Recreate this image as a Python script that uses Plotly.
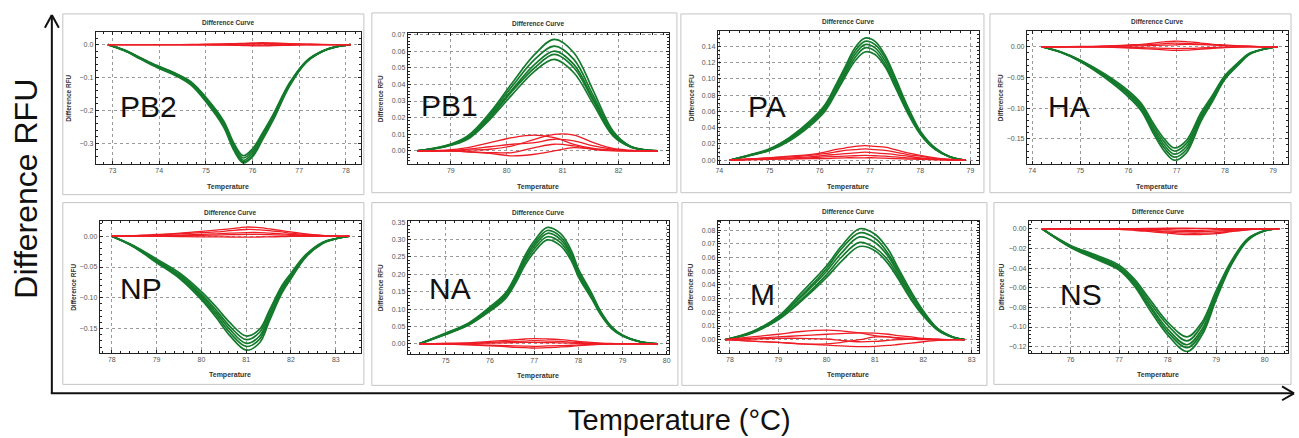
import plotly.graph_objects as go

W, H = 1299, 438

# ---------------- data ----------------
PB2_temp = [72.9, 73.25, 73.6, 73.96, 74.3, 74.67, 75.0, 75.38, 75.6, 75.8, 76.0, 76.2, 76.44, 76.79, 77.15, 77.5, 77.8, 78.1]
PB2_green = [
    [0, -0.016, -0.040, -0.064, -0.084, -0.112, -0.160, -0.232, -0.300, -0.338, -0.317, -0.272, -0.213, -0.117, -0.050, -0.019, -0.006, 0],
    [0, -0.017, -0.041, -0.066, -0.085, -0.115, -0.164, -0.237, -0.306, -0.345, -0.323, -0.277, -0.218, -0.120, -0.051, -0.020, -0.006, 0],
    [0, -0.017, -0.042, -0.067, -0.087, -0.117, -0.167, -0.242, -0.312, -0.352, -0.330, -0.283, -0.222, -0.122, -0.052, -0.020, -0.006, 0],
    [0, -0.018, -0.043, -0.068, -0.089, -0.119, -0.170, -0.247, -0.318, -0.357, -0.337, -0.289, -0.226, -0.124, -0.053, -0.020, -0.006, 0],
    [0, -0.018, -0.044, -0.070, -0.091, -0.122, -0.174, -0.251, -0.322, -0.360, -0.341, -0.293, -0.230, -0.127, -0.054, -0.021, -0.006, 0],
]
PB2_red = [
    [0, 0, 0, 0, 0, 0.0005, 0.001, 0.002, 0.003, 0.004, 0.005, 0.006, 0.005, 0.003, 0.0015, 0.0005, 0, 0],
    [0, 0, 0, 0, 0, 0, 0.0005, 0.001, 0.002, 0.0025, 0.003, 0.0035, 0.003, 0.002, 0.001, 0, 0, 0],
    [0, 0, 0, 0, 0, -0.0005, -0.001, -0.0015, -0.002, -0.003, -0.0035, -0.004, -0.003, -0.002, -0.001, 0, 0, 0],
    [0, 0, 0, 0, 0, 0, 0.0005, 0.001, 0.0015, 0.0015, 0.002, 0.002, 0.0015, 0.001, 0.0005, 0, 0, 0],
    [0, 0, 0, 0, 0, 0, -0.0005, -0.001, -0.001, -0.0015, -0.0015, -0.0015, -0.001, -0.0005, 0, 0, 0, 0],
]

PB1_temp = [78.4, 78.9, 79.3, 79.7, 80.1, 80.5, 80.85, 81.2, 81.55, 81.9, 82.2, 82.45, 82.7]
PB1_green = [
    [0, 0.003, 0.009, 0.023, 0.041, 0.058, 0.067, 0.059, 0.036, 0.012, 0.003, 0.0008, 0],
    [0, 0.003, 0.008, 0.022, 0.039, 0.055, 0.063, 0.055, 0.033, 0.011, 0.003, 0.0007, 0],
    [0, 0.0028, 0.008, 0.021, 0.037, 0.052, 0.060, 0.052, 0.031, 0.010, 0.0028, 0.0006, 0],
    [0, 0.0026, 0.0075, 0.020, 0.036, 0.050, 0.058, 0.050, 0.030, 0.0095, 0.0026, 0.0006, 0],
    [0, 0.0025, 0.007, 0.019, 0.034, 0.048, 0.055, 0.047, 0.028, 0.009, 0.0025, 0.0005, 0],
]
PB1_red = [
    [0, 0.0005, 0.002, 0.005, 0.008, 0.0095, 0.008, 0.004, 0.0015, 0.0005, 0, 0, 0],
    [0, 0, 0.0005, 0.001, 0.003, 0.007, 0.010, 0.0095, 0.005, 0.0015, 0.0005, 0, 0],
    [0, 0, 0.001, 0.0025, 0.004, 0.005, 0.007, 0.006, 0.003, 0.001, 0, 0, 0],
    [0, 0, -0.0005, -0.0015, -0.003, -0.002, 0.000, 0.002, 0.001, 0.0005, 0, 0, 0],
    [0, 0, -0.0005, -0.001, -0.001, 0.002, 0.004, 0.003, 0.001, 0, 0, 0, 0],
]

PA_temp = [74.2, 74.6, 75.0, 75.4, 75.8, 76.1, 76.3, 76.5, 76.7, 76.9, 77.1, 77.3, 77.5, 77.75, 78.0, 78.3, 78.6, 78.9]
PA_green = [
    [0, 0.0064, 0.014, 0.028, 0.048, 0.068, 0.090, 0.114, 0.138, 0.150, 0.146, 0.129, 0.102, 0.066, 0.036, 0.015, 0.004, 0],
    [0, 0.0062, 0.013, 0.027, 0.046, 0.066, 0.088, 0.111, 0.134, 0.146, 0.142, 0.126, 0.099, 0.064, 0.035, 0.014, 0.004, 0],
    [0, 0.006, 0.013, 0.026, 0.045, 0.064, 0.085, 0.108, 0.130, 0.142, 0.138, 0.122, 0.096, 0.062, 0.034, 0.014, 0.004, 0],
    [0, 0.0058, 0.0126, 0.025, 0.044, 0.062, 0.082, 0.105, 0.126, 0.138, 0.134, 0.118, 0.093, 0.060, 0.033, 0.0136, 0.0039, 0],
    [0, 0.0056, 0.012, 0.024, 0.042, 0.060, 0.080, 0.102, 0.122, 0.133, 0.130, 0.115, 0.090, 0.058, 0.032, 0.013, 0.0038, 0],
]
PA_red = [
    [0, 0.0015, 0.003, 0.005, 0.007, 0.010, 0.013, 0.015, 0.017, 0.018, 0.017, 0.016, 0.013, 0.009, 0.006, 0.003, 0.001, 0],
    [0, 0.0015, 0.003, 0.004, 0.006, 0.008, 0.010, 0.012, 0.013, 0.014, 0.013, 0.012, 0.010, 0.007, 0.005, 0.002, 0.001, 0],
    [0, 0.001, 0.002, 0.003, 0.004, 0.006, 0.007, 0.008, 0.009, 0.010, 0.009, 0.008, 0.007, 0.005, 0.003, 0.0015, 0.0005, 0],
    [0, 0.001, 0.0015, 0.002, 0.003, 0.004, 0.0045, 0.005, 0.0055, 0.006, 0.0055, 0.005, 0.004, 0.003, 0.002, 0.001, 0.0005, 0],
    [0, 0.0005, 0.001, 0.0015, 0.002, 0.002, 0.0025, 0.003, 0.003, 0.003, 0.003, 0.0025, 0.002, 0.0015, 0.001, 0.0005, 0, 0],
]

HA_temp = [74.2, 74.6, 75.0, 75.5, 76.0, 76.27, 76.5, 76.75, 76.95, 77.2, 77.5, 77.75, 78.0, 78.3, 78.5, 78.8, 79.1]
HA_green = [
    [0, -0.0095, -0.024, -0.050, -0.082, -0.105, -0.139, -0.171, -0.185, -0.173, -0.122, -0.088, -0.053, -0.028, -0.013, -0.004, 0],
    [0, -0.009, -0.024, -0.048, -0.079, -0.102, -0.135, -0.166, -0.180, -0.168, -0.118, -0.085, -0.052, -0.027, -0.012, -0.004, 0],
    [0, -0.009, -0.023, -0.047, -0.077, -0.099, -0.131, -0.161, -0.175, -0.163, -0.115, -0.083, -0.050, -0.026, -0.012, -0.004, 0],
    [0, -0.0087, -0.022, -0.046, -0.075, -0.096, -0.127, -0.156, -0.170, -0.158, -0.112, -0.081, -0.049, -0.025, -0.012, -0.004, 0],
    [0, -0.0085, -0.022, -0.044, -0.072, -0.093, -0.123, -0.151, -0.165, -0.153, -0.108, -0.078, -0.047, -0.024, -0.011, -0.004, 0],
]
HA_red = [
    [0, 0, 0.0005, 0.001, 0.003, 0.004, 0.006, 0.008, 0.009, 0.0085, 0.006, 0.004, 0.003, 0.0015, 0.001, 0, 0],
    [0, 0, 0, 0.001, 0.002, 0.003, 0.004, 0.005, 0.006, 0.0055, 0.004, 0.003, 0.002, 0.001, 0.0005, 0, 0],
    [0, 0, 0, -0.0005, -0.002, -0.003, -0.004, -0.005, -0.006, -0.0055, -0.004, -0.0025, -0.0015, -0.0005, 0, 0, 0],
    [0, 0, 0, 0.0005, 0.001, 0.0015, 0.002, 0.0025, 0.003, 0.004, 0.0035, 0.003, 0.002, 0.001, 0.0005, 0, 0],
    [0, 0, 0, -0.0005, -0.001, -0.0015, -0.002, -0.0025, -0.003, -0.0028, -0.002, -0.0012, -0.0006, 0, 0, 0, 0],
]

NP_temp = [78.0, 78.48, 79.0, 79.52, 80.0, 80.33, 80.63, 81.0, 81.3, 81.52, 81.8, 82.0, 82.33, 82.7, 83.0, 83.3]
NP_green = [
    [0, -0.017, -0.043, -0.069, -0.103, -0.132, -0.161, -0.185, -0.173, -0.137, -0.092, -0.069, -0.034, -0.012, -0.004, 0],
    [0, -0.0165, -0.041, -0.067, -0.100, -0.128, -0.156, -0.179, -0.167, -0.133, -0.089, -0.067, -0.033, -0.011, -0.004, 0],
    [0, -0.016, -0.040, -0.065, -0.097, -0.124, -0.151, -0.174, -0.162, -0.129, -0.086, -0.065, -0.032, -0.011, -0.004, 0],
    [0, -0.0155, -0.039, -0.063, -0.094, -0.120, -0.146, -0.168, -0.156, -0.124, -0.083, -0.063, -0.031, -0.0105, -0.004, 0],
    [0, -0.015, -0.037, -0.060, -0.090, -0.115, -0.140, -0.162, -0.151, -0.120, -0.080, -0.060, -0.030, -0.010, -0.0037, 0],
]
NP_red = [
    [0, 0.001, 0.003, 0.005, 0.008, 0.010, 0.012, 0.015, 0.014, 0.012, 0.009, 0.007, 0.004, 0.0015, 0.0005, 0],
    [0, 0.001, 0.002, 0.004, 0.006, 0.007, 0.009, 0.011, 0.0105, 0.009, 0.007, 0.005, 0.003, 0.001, 0, 0],
    [0, 0.0005, 0.001, 0.002, 0.003, 0.004, 0.005, 0.006, 0.006, 0.005, 0.004, 0.003, 0.002, 0.0008, 0, 0],
    [0, 0, 0.0005, 0.001, 0.0015, 0.002, 0.0025, 0.003, 0.003, 0.0025, 0.002, 0.0015, 0.001, 0.0004, 0, 0],
    [0, 0, 0, -0.0005, -0.001, -0.001, -0.0012, -0.0015, -0.0012, -0.001, -0.0006, -0.0003, 0, 0, 0, 0],
]

NA_temp = [74.4, 75.0, 75.52, 76.0, 76.35, 76.58, 76.8, 77.0, 77.3, 77.6, 77.85, 78.0, 78.3, 78.5, 78.75, 79.0, 79.4, 79.8]
NA_green = [
    [0, 0.031, 0.060, 0.106, 0.146, 0.196, 0.256, 0.296, 0.335, 0.317, 0.266, 0.216, 0.146, 0.095, 0.050, 0.025, 0.0065, 0],
    [0, 0.030, 0.058, 0.102, 0.141, 0.191, 0.249, 0.288, 0.326, 0.308, 0.258, 0.210, 0.141, 0.092, 0.048, 0.025, 0.006, 0],
    [0, 0.029, 0.057, 0.100, 0.138, 0.186, 0.243, 0.281, 0.318, 0.300, 0.252, 0.205, 0.138, 0.090, 0.047, 0.024, 0.006, 0],
    [0, 0.028, 0.055, 0.097, 0.134, 0.180, 0.236, 0.273, 0.308, 0.291, 0.244, 0.199, 0.134, 0.087, 0.046, 0.023, 0.006, 0],
    [0, 0.027, 0.054, 0.094, 0.130, 0.175, 0.228, 0.264, 0.299, 0.282, 0.237, 0.193, 0.130, 0.085, 0.044, 0.0225, 0.0056, 0],
]
NA_red = [
    [0, 0.001, 0.003, 0.007, 0.010, 0.012, 0.014, 0.015, 0.014, 0.012, 0.009, 0.007, 0.004, 0.002, 0.001, 0.0005, 0, 0],
    [0, 0.001, 0.002, 0.004, 0.006, 0.007, 0.008, 0.009, 0.008, 0.007, 0.005, 0.004, 0.002, 0.001, 0.0005, 0, 0, 0],
    [0, -0.001, -0.003, -0.006, -0.008, -0.010, -0.011, -0.012, -0.011, -0.009, -0.007, -0.005, -0.003, -0.0015, -0.0005, 0, 0, 0],
    [0, -0.0005, -0.002, -0.004, -0.005, -0.006, -0.0065, -0.007, -0.006, -0.005, -0.004, -0.003, -0.0015, -0.0005, 0, 0, 0, 0],
    [0, 0, 0.001, 0.002, 0.003, 0.0035, 0.004, 0.004, 0.0035, 0.003, 0.002, 0.0015, 0.001, 0.0005, 0, 0, 0, 0],
]

M_temp = [77.9, 78.45, 79.0, 79.47, 80.0, 80.3, 80.68, 81.0, 81.27, 81.47, 81.75, 82.0, 82.3, 82.6, 82.85]
M_green = [
    [0, 0.0057, 0.017, 0.034, 0.054, 0.068, 0.081, 0.077, 0.066, 0.053, 0.035, 0.021, 0.008, 0.0022, 0],
    [0, 0.0055, 0.0166, 0.032, 0.052, 0.066, 0.078, 0.074, 0.063, 0.051, 0.033, 0.020, 0.0078, 0.0021, 0],
    [0, 0.0053, 0.016, 0.031, 0.050, 0.063, 0.075, 0.071, 0.061, 0.049, 0.032, 0.019, 0.0075, 0.002, 0],
    [0, 0.005, 0.015, 0.029, 0.0475, 0.060, 0.071, 0.067, 0.058, 0.047, 0.030, 0.018, 0.0071, 0.0019, 0],
    [0, 0.0048, 0.0146, 0.028, 0.0455, 0.057, 0.068, 0.065, 0.0555, 0.045, 0.029, 0.0173, 0.0068, 0.0018, 0],
]
M_red = [
    [0, 0.002, 0.004, 0.006, 0.007, 0.0065, 0.005, 0.003, 0.002, 0.001, 0.0005, 0, 0, 0, 0],
    [0, 0.001, 0.002, 0.003, 0.004, 0.0045, 0.005, 0.0048, 0.004, 0.003, 0.002, 0.001, 0.0005, 0, 0],
    [0, -0.001, -0.002, -0.003, -0.003, -0.002, 0.000, 0.002, 0.002, 0.0015, 0.001, 0.0005, 0, 0, 0],
    [0, -0.001, -0.002, -0.003, -0.004, -0.0045, -0.005, -0.0048, -0.0042, -0.0035, -0.0025, -0.0015, -0.0005, 0, 0],
    [0, 0.0005, 0.001, 0.001, 0.0005, -0.0005, -0.0015, -0.0012, -0.0005, 0, 0.0005, 0.0003, 0, 0, 0],
]

NS_temp = [75.41, 76.0, 76.48, 77.0, 77.31, 77.65, 78.0, 78.4, 78.71, 79.0, 79.31, 79.65, 80.0, 80.3]
NS_green = [
    [0, -0.019, -0.030, -0.042, -0.058, -0.084, -0.108, -0.125, -0.108, -0.072, -0.037, -0.012, -0.002, 0],
    [0, -0.0185, -0.029, -0.041, -0.057, -0.081, -0.105, -0.121, -0.105, -0.070, -0.036, -0.011, -0.002, 0],
    [0, -0.018, -0.028, -0.040, -0.055, -0.079, -0.102, -0.118, -0.102, -0.068, -0.035, -0.011, -0.002, 0],
    [0, -0.0175, -0.027, -0.0385, -0.053, -0.076, -0.098, -0.114, -0.098, -0.066, -0.034, -0.0106, -0.002, 0],
    [0, -0.017, -0.026, -0.037, -0.051, -0.073, -0.095, -0.110, -0.095, -0.063, -0.033, -0.010, -0.0019, 0],
]
NS_red = [
    [0, 0, 0, -0.0005, -0.0015, -0.003, -0.0045, -0.006, -0.0058, -0.005, -0.003, -0.001, 0, 0],
    [0, 0, 0, -0.0005, -0.001, -0.002, -0.0035, -0.0045, -0.0045, -0.004, -0.0025, -0.0008, 0, 0],
    [0, 0, 0, 0, -0.0005, -0.0015, -0.0025, -0.003, -0.003, -0.0025, -0.0015, -0.0005, 0, 0],
    [0, 0, 0, 0, 0, -0.0005, -0.001, -0.0015, -0.0015, -0.001, -0.0005, 0, 0, 0],
    [0, 0, 0, 0, 0, 0.0003, 0.0005, 0.0005, 0.0004, 0.0002, 0, 0, 0, 0],
]

PANEL_NAMES = ["PB2", "PB1", "PA", "HA", "NP", "NA", "M", "NS"]
PANEL_DATA = {
    "PB2": (PB2_temp, PB2_green, PB2_red),
    "PB1": (PB1_temp, PB1_green, PB1_red),
    "PA": (PA_temp, PA_green, PA_red),
    "HA": (HA_temp, HA_green, HA_red),
    "NP": (NP_temp, NP_green, NP_red),
    "NA": (NA_temp, NA_green, NA_red),
    "M": (M_temp, M_green, M_red),
    "NS": (NS_temp, NS_green, NS_red),
}

PANEL_TITLE = "Difference Curve"
PANEL_XTITLE = "Temperature"
PANEL_YTITLE = "Difference RFU"
BIG_XTITLE = "Temperature (°C)"
BIG_YTITLE = "Difference RFU"

# ---------------- layout / style table (pixels) ----------------
STYLE = {
    "PB2": dict(box=(61, 11, 363, 193), area=(94, 29, 360, 162), xr=(72.64, 78.32), yr=(-0.363, 0.039),
                ydt=0.1, ymin=0.02, yfmt=".1f", lab=(147, 104)),
    "PB1": dict(box=(371, 10, 677, 191), area=(407, 30, 669, 162), xr=(78.23, 82.9), yr=(-0.0078, 0.071),
                ydt=0.01, ymin=0.002, yfmt=".2f", lab=(449, 103)),
    "PA": dict(box=(681, 11, 985, 191), area=(718, 28, 980, 162), xr=(73.97, 79.17), yr=(-0.0045, 0.159),
               ydt=0.02, ymin=0.005, yfmt=".2f", lab=(767, 104)),
    "HA": dict(box=(991, 11, 1293, 191), area=(1028, 28, 1290, 162), xr=(73.89, 79.31), yr=(-0.191, 0.026),
               ydt=0.05, ymin=0.01, yfmt=".2f", lab=(1070, 104)),
    "NP": dict(box=(61, 201, 363, 384), area=(98, 220, 360, 352), xr=(77.73, 83.56), yr=(-0.189, 0.024),
               ydt=0.05, ymin=0.01, yfmt=".2f", lab=(139, 287)),
    "NA": dict(box=(371, 201, 678, 385), area=(407, 220, 669, 353), xr=(74.14, 80.05), yr=(-0.028, 0.352),
               ydt=0.05, ymin=0.01, yfmt=".2f", lab=(449, 287)),
    "M": dict(box=(682, 201, 988, 385), area=(718, 219, 980, 352), xr=(77.75, 83.15), yr=(-0.0094, 0.087),
              ydt=0.01, ymin=0.002, yfmt=".2f", lab=(763, 294)),
    "NS": dict(box=(995, 201, 1293, 384), area=(1030, 219, 1290, 352), xr=(75.14, 80.48), yr=(-0.126, 0.0084),
               ydt=0.02, ymin=0.004, yfmt=".2f", lab=(1082, 294)),
}

GREEN = "#147a2c"
RED = "#ee1c24"
FONT = "Liberation Sans, Arial, sans-serif"


def px(x):
    return x / W


def py(y):
    return 1 - y / H


fig = go.Figure()
shapes = []
annotations = []
layout_axes = {}


def note(x, y, text, size, color="#333", angle=0):
    return dict(xref="paper", yref="paper", x=px(x), y=py(y), text=text, textangle=angle,
                xanchor="center", yanchor="middle", showarrow=False,
                font=dict(size=size, color=color, family=FONT))


for i, name in enumerate(PANEL_NAMES, start=1):
    temp, greens, reds = PANEL_DATA[name]
    s = STYLE[name]
    xa = "x" if i == 1 else f"x{i}"
    ya = "y" if i == 1 else f"y{i}"
    for g in greens:
        fig.add_trace(go.Scatter(x=temp, y=g, mode="lines", xaxis=xa, yaxis=ya,
                                 line=dict(color=GREEN, width=1.7, shape="spline", smoothing=1.0),
                                 showlegend=False, hoverinfo="skip"))
    for r in reds:
        fig.add_trace(go.Scatter(x=temp, y=r, mode="lines", xaxis=xa, yaxis=ya,
                                 line=dict(color=RED, width=1.3, shape="spline", smoothing=1.0),
                                 showlegend=False, hoverinfo="skip"))

    l, t, r_, b = s["area"]
    common = dict(showline=True, linecolor="#222", linewidth=1, mirror="allticks",
                  ticks="inside", ticklen=3, tickcolor="#222", tickwidth=1,
                  showgrid=True, gridcolor="#9a9a9a", griddash="dot", gridwidth=1,
                  zeroline=False, tickfont=dict(size=7, color="#555", family=FONT))
    layout_axes["xaxis" if i == 1 else f"xaxis{i}"] = dict(
        domain=[px(l), px(r_)], anchor=ya, range=list(s["xr"]), dtick=1, tickformat="d",
        minor=dict(ticks="inside", ticklen=2, dtick=0.2, tickcolor="#222", showgrid=False), **common)
    layout_axes["yaxis" if i == 1 else f"yaxis{i}"] = dict(
        domain=[py(b), py(t)], anchor=xa, range=list(s["yr"]), dtick=s["ydt"], tick0=0,
        tickformat=s["yfmt"],
        minor=dict(ticks="inside", ticklen=2, dtick=s["ymin"], tickcolor="#222", showgrid=False), **common)

    bx0, by0, bx1, by1 = s["box"]
    shapes.append(dict(type="rect", xref="paper", yref="paper", x0=px(bx0), x1=px(bx1), y0=py(by1), y1=py(by0),
                       line=dict(color="#c4c4c4", width=1), fillcolor="rgba(0,0,0,0)", layer="below"))
    annotations.append(note((l + r_) / 2, t - 9, f"<b>{PANEL_TITLE}</b>", 6.5))
    annotations.append(note((l + r_) / 2, b + 23, f"<b>{PANEL_XTITLE}</b>", 7))
    annotations.append(note(l - 27, (t + b) / 2, f"<b>{PANEL_YTITLE}</b>", 6.5, angle=-90))
    annotations.append(note(s["lab"][0], s["lab"][1], name, 30, color="#111"))

# big axes with arrows
arrow_line = dict(color="#111", width=2)
shapes += [
    dict(type="line", xref="paper", yref="paper", x0=px(50), x1=px(50), y0=py(393), y1=py(12), line=arrow_line),
    dict(type="line", xref="paper", yref="paper", x0=px(43), x1=px(50), y0=py(25), y1=py(12), line=arrow_line),
    dict(type="line", xref="paper", yref="paper", x0=px(57), x1=px(50), y0=py(25), y1=py(12), line=arrow_line),
    dict(type="line", xref="paper", yref="paper", x0=px(49), x1=px(1296), y0=py(393), y1=py(393), line=arrow_line),
    dict(type="line", xref="paper", yref="paper", x0=px(1284), x1=px(1296), y0=py(386), y1=py(393), line=arrow_line),
    dict(type="line", xref="paper", yref="paper", x0=px(1284), x1=px(1296), y0=py(400), y1=py(393), line=arrow_line),
]
annotations.append(note(680, 420, BIG_XTITLE, 29, color="#111"))
annotations.append(note(24, 187, BIG_YTITLE, 32, color="#111", angle=-90))

fig.update_layout(width=W, height=H, margin=dict(l=0, r=0, t=0, b=0),
                  paper_bgcolor="white", plot_bgcolor="white",
                  shapes=shapes, annotations=annotations, **layout_axes)

fig.write_html("out.html", config={"displayModeBar": False},
               post_script="document.body.style.margin='0';document.body.style.padding='0';"
                           "document.body.style.overflow='hidden';")
